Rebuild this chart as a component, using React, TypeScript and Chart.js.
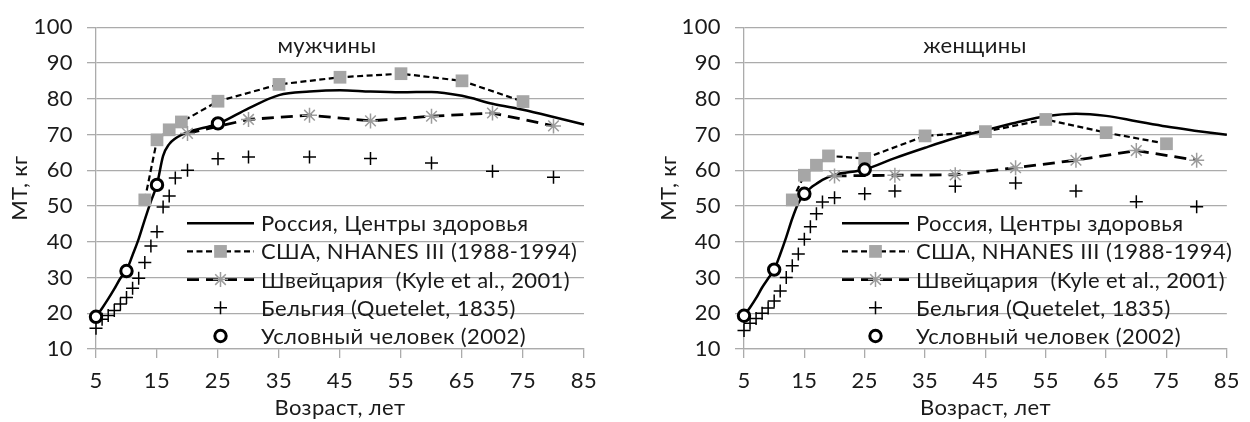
import React, { useEffect, useRef } from 'react';
import { Chart, registerables } from 'chart.js';

Chart.register(...registerables);

// Body mass (kg) by age (years)

// Men
const menRussiaAge = [5, 6, 7, 8, 9, 10, 11, 12, 13, 14, 15, 16, 17, 18, 20, 25, 30, 35, 40, 45, 50, 55, 60, 65, 70, 75, 80, 85];
const menRussiaMass = [19, 21.4, 24, 26.8, 29.8, 32, 36.3, 40.8, 46.2, 51.3, 56, 64, 67.3, 68.9, 70.6, 73, 77.3, 81, 82, 82.4, 82, 81.8, 81.9, 80.8, 78.6, 76.9, 74.9, 72.8];
const menUsaAge = [13, 15, 17, 19, 25, 35, 45, 55, 65, 75];
const menUsaMass = [51.7, 68.5, 71.3, 73.5, 79.3, 84, 86, 87, 85, 79.2];
const menSwissAge = [20, 30, 40, 50, 60, 70, 80];
const menSwissMass = [70.3, 74.2, 75.4, 73.8, 75.1, 76, 72.4];
const menBelgiumAge = [5, 6, 7, 8, 9, 10, 11, 12, 13, 14, 15, 16, 17, 18, 20, 25, 30, 40, 50, 60, 70, 80];
const menBelgiumMass = [15.8, 18.3, 19.4, 20.8, 22.6, 24.4, 27, 29.8, 34.2, 38.8, 42.8, 49.7, 52.8, 57.8, 60, 63.2, 63.7, 63.7, 63.3, 62, 59.7, 58];
const menRefAge = [5, 10, 15, 25];
const menRefMass = [19, 31.8, 55.9, 73.1];

// Women
const womenRussiaAge = [5, 6, 7, 8, 9, 10, 11, 12, 13, 14, 15, 16, 17, 18, 20, 25, 30, 35, 40, 45, 50, 55, 60, 65, 70, 75, 80, 85];
const womenRussiaMass = [19.3, 21.6, 24.2, 27.2, 29.7, 32.2, 36.5, 41.3, 46.5, 50.8, 53.3, 55, 56.2, 57.3, 58.7, 60.2, 63.4, 66.3, 69, 71.2, 73.3, 75.1, 75.8, 75.2, 73.7, 72.2, 71, 69.9];
const womenUsaAge = [13, 15, 17, 19, 25, 35, 45, 55, 65, 75];
const womenUsaMass = [51.7, 58.6, 61.4, 64, 63.3, 69.6, 70.8, 74.2, 70.5, 67.4];
const womenSwissAge = [20, 30, 40, 50, 60, 70, 80];
const womenSwissMass = [58.4, 58.6, 58.7, 60.7, 62.8, 65.5, 62.8];
const womenBelgiumAge = [5, 6, 7, 8, 9, 10, 11, 12, 13, 14, 15, 16, 17, 18, 20, 25, 30, 40, 50, 60, 70, 80];
const womenBelgiumMass = [15.2, 17.2, 18.5, 20, 21.5, 23.4, 26.2, 30, 33.3, 36.6, 40.7, 44.2, 47.8, 51.1, 52.3, 53.4, 54.2, 55.5, 56.4, 54.2, 51.2, 49.8];
const womenRefAge = [5, 10, 15, 25];
const womenRefMass = [19.3, 32.2, 53.4, 60.2];

const seriesLabels = [
  'Россия, Центры здоровья',
  'США, NHANES III (1988-1994)',
  'Швейцария  (Kyle et al., 2001)',
  'Бельгия (Quetelet, 1835)',
  'Условный человек (2002)',
];

const AGE_MIN = 5;
const AGE_MAX = 85;
const AGE_STEP = 10;
const MASS_MIN = 10;
const MASS_MAX = 100;
const MASS_STEP = 10;

const FONT = 'Lato, "Noto Sans", sans-serif';
const FONT_SIZE = 22;
const LETTER_SPACING = '0.4px';
const TEXT = '#1a1a1a';
const GRID = '#ababab';
const MARKER_GREY = '#a6a6a6';
const SAMPLE_LEN = 67;

const pts = (xs: number[], ys: number[]) => xs.map((x, i) => ({ x, y: ys[i] }));

function drawMarker(ctx: CanvasRenderingContext2D, ds: any, x: number, y: number) {
  const r = ds.pointRadius;
  const style = ds.pointStyle;
  ctx.save();
  ctx.setLineDash([]);
  ctx.lineWidth = ds.pointBorderWidth;
  ctx.strokeStyle = ds.pointBorderColor;
  ctx.fillStyle = ds.pointBackgroundColor;
  ctx.beginPath();
  if (style === 'rect') {
    const s = r * Math.SQRT1_2;
    ctx.rect(x - s, y - s, 2 * s, 2 * s);
    ctx.fill();
  } else if (style === 'cross' || style === 'star') {
    ctx.moveTo(x - r, y);
    ctx.lineTo(x + r, y);
    ctx.moveTo(x, y - r);
    ctx.lineTo(x, y + r);
    if (style === 'star') {
      const d = r * Math.SQRT1_2;
      ctx.moveTo(x - d, y - d);
      ctx.lineTo(x + d, y + d);
      ctx.moveTo(x - d, y + d);
      ctx.lineTo(x + d, y - d);
    }
    ctx.stroke();
  } else {
    ctx.arc(x, y, r, 0, Math.PI * 2);
    ctx.fill();
    ctx.stroke();
  }
  ctx.restore();
}

// Slightly wider letter spacing for all text on the canvas
const textSpacing = {
  id: 'textSpacing',
  beforeUpdate(chart: any) {
    (chart.ctx as any).letterSpacing = LETTER_SPACING;
  },
  beforeDraw(chart: any) {
    (chart.ctx as any).letterSpacing = LETTER_SPACING;
  },
};

// Panel caption and an in-plot legend without a box
const panelDecor = {
  id: 'panelDecor',
  afterDatasetsDraw(chart: any, _args: any, opts: any) {
    const { ctx, chartArea } = chart;
    ctx.save();
    ctx.fillStyle = TEXT;
    ctx.textBaseline = 'middle';
    ctx.textAlign = 'center';
    ctx.font = `${opts.titleSize}px ${FONT}`;
    ctx.fillText(opts.title, chartArea.left + opts.titleDx, chartArea.top + opts.titleDy);

    const x0 = chartArea.left + opts.legendDx;
    ctx.font = `${opts.legendSize}px ${FONT}`;
    chart.data.datasets.forEach((ds: any, i: number) => {
      const y = chartArea.top + opts.legendDy + i * opts.legendStep;
      if (ds.showLine !== false) {
        ctx.save();
        ctx.strokeStyle = ds.borderColor;
        ctx.lineWidth = ds.borderWidth;
        ctx.setLineDash(ds.borderDash || []);
        ctx.beginPath();
        ctx.moveTo(x0, y);
        ctx.lineTo(x0 + SAMPLE_LEN, y);
        ctx.stroke();
        ctx.restore();
      }
      if (ds.pointRadius > 0) drawMarker(ctx, ds, x0 + SAMPLE_LEN / 2, y);
      ctx.fillStyle = TEXT;
      ctx.textAlign = 'left';
      ctx.fillText(ds.label, x0 + SAMPLE_LEN + 7, y + 1);
    });
    ctx.restore();
  },
};

type PanelSpec = {
  title: string;
  russia: { x: number; y: number }[];
  usa: { x: number; y: number }[];
  swiss: { x: number; y: number }[];
  belgium: { x: number; y: number }[];
  ref: { x: number; y: number }[];
  yAxisWidth: number;
  rightPad: number;
  yTitlePad: number;
  legendDx: number;
};

function buildConfig(p: PanelSpec): any {
  return {
    type: 'line',
    data: {
      datasets: [
        {
          label: seriesLabels[0],
          data: p.russia,
          borderColor: '#000',
          borderWidth: 2.5,
          pointRadius: 0,
          cubicInterpolationMode: 'monotone',
          borderJoinStyle: 'round',
          fill: false,
          clip: false,
          order: 4,
        },
        {
          label: seriesLabels[1],
          data: p.usa,
          borderColor: '#000',
          borderWidth: 2.2,
          borderDash: [6, 3.5],
          tension: 0,
          pointStyle: 'rect',
          pointRadius: 9,
          pointBackgroundColor: MARKER_GREY,
          pointBorderColor: MARKER_GREY,
          pointBorderWidth: 0,
          fill: false,
          clip: false,
          order: 3,
        },
        {
          label: seriesLabels[2],
          data: p.swiss,
          borderColor: '#000',
          borderWidth: 2.8,
          borderDash: [12, 7],
          tension: 0,
          pointStyle: 'star',
          pointRadius: 7.5,
          pointBackgroundColor: MARKER_GREY,
          pointBorderColor: '#9c9c9c',
          pointBorderWidth: 1.5,
          fill: false,
          clip: false,
          order: 2,
        },
        {
          label: seriesLabels[3],
          data: p.belgium,
          showLine: false,
          borderColor: '#000',
          pointStyle: 'cross',
          pointRadius: 6.5,
          pointBackgroundColor: '#000',
          pointBorderColor: '#000',
          pointBorderWidth: 1.5,
          clip: false,
          order: 1,
        },
        {
          label: seriesLabels[4],
          data: p.ref,
          showLine: false,
          borderColor: '#000',
          pointStyle: 'circle',
          pointRadius: 5.7,
          pointBackgroundColor: '#fff',
          pointBorderColor: '#000',
          pointBorderWidth: 3,
          clip: false,
          order: 0,
        },
      ],
    },
    options: {
      responsive: false,
      animation: false,
      devicePixelRatio: 1,
      events: [],
      layout: { padding: { top: 21, right: p.rightPad, bottom: 0, left: 0 } },
      plugins: {
        legend: { display: false },
        tooltip: { enabled: false },
        panelDecor: {
          title: p.title,
          titleSize: FONT_SIZE,
          titleDx: 231,
          titleDy: 19,
          legendDx: p.legendDx,
          legendDy: 196,
          legendStep: 28.2,
          legendSize: FONT_SIZE,
        },
      },
      scales: {
        x: {
          type: 'linear',
          min: AGE_MIN,
          max: AGE_MAX,
          ticks: {
            stepSize: AGE_STEP,
            color: TEXT,
            font: { family: FONT, size: FONT_SIZE },
            padding: 10,
            maxRotation: 0,
          },
          grid: {
            display: true,
            drawOnChartArea: false,
            drawTicks: true,
            tickLength: 9,
            color: GRID,
            lineWidth: 1.3,
          },
          border: { display: true, color: GRID, width: 1.3 },
          title: {
            display: true,
            text: 'Возраст, лет',
            color: TEXT,
            font: { family: FONT, size: FONT_SIZE },
            padding: { top: 0, bottom: 1 },
          },
          afterFit: (s: any) => {
            s.height = 73;
          },
        },
        y: {
          type: 'linear',
          min: MASS_MIN,
          max: MASS_MAX,
          ticks: {
            stepSize: MASS_STEP,
            color: TEXT,
            font: { family: FONT, size: FONT_SIZE },
            padding: 14,
          },
          grid: {
            display: true,
            drawOnChartArea: true,
            drawTicks: true,
            tickLength: 9,
            color: GRID,
            lineWidth: 1.3,
          },
          border: { display: true, color: GRID, width: 1.3 },
          title: {
            display: true,
            text: 'МТ, кг',
            color: TEXT,
            font: { family: FONT, size: FONT_SIZE },
            padding: { top: p.yTitlePad, bottom: 0 },
          },
          afterFit: (s: any) => {
            s.width = p.yAxisWidth;
          },
        },
      },
    },
    plugins: [textSpacing, panelDecor],
  };
}

const menPanel: PanelSpec = {
  title: 'мужчины',
  russia: pts(menRussiaAge, menRussiaMass),
  usa: pts(menUsaAge, menUsaMass),
  swiss: pts(menSwissAge, menSwissMass),
  belgium: pts(menBelgiumAge, menBelgiumMass),
  ref: pts(menRefAge, menRefMass),
  yAxisWidth: 96,
  rightPad: 41,
  yTitlePad: 7,
  legendDx: 91,
};

const womenPanel: PanelSpec = {
  title: 'женщины',
  russia: pts(womenRussiaAge, womenRussiaMass),
  usa: pts(womenUsaAge, womenUsaMass),
  swiss: pts(womenSwissAge, womenSwissMass),
  belgium: pts(womenBelgiumAge, womenBelgiumMass),
  ref: pts(womenRefAge, womenRefMass),
  yAxisWidth: 119,
  rightPad: 20,
  yTitlePad: 31,
  legendDx: 98,
};

function Panel({ spec, left }: { spec: PanelSpec; left: number }) {
  const ref = useRef<HTMLCanvasElement | null>(null);
  useEffect(() => {
    if (!ref.current) return;
    const chart = new Chart(ref.current, buildConfig(spec));
    return () => chart.destroy();
  }, [spec]);
  return (
    <canvas
      ref={ref}
      width={625}
      height={422}
      style={{ position: 'absolute', left, top: 0, width: 625, height: 422 }}
    />
  );
}

export default function App() {
  return (
    <div style={{ position: 'absolute', left: 0, top: 0, width: 1250, height: 422, background: '#fff' }}>
      <Panel spec={menPanel} left={0} />
      <Panel spec={womenPanel} left={625} />
    </div>
  );
}
